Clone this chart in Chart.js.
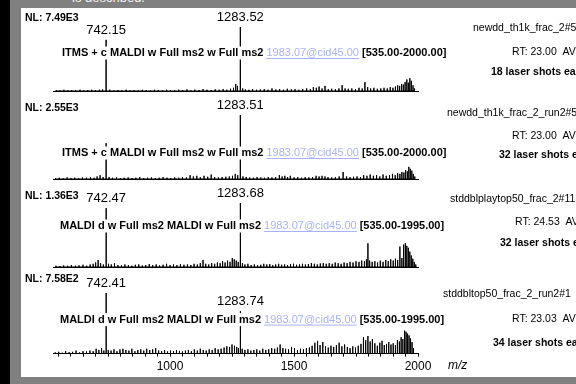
<!DOCTYPE html>
<html>
<head>
<meta charset="utf-8">
<title>MS2 spectra</title>
<script src="https://cdn.jsdelivr.net/npm/chart.js@4.4.1/dist/chart.umd.min.js"></script>
<style>
  html, body { margin: 0; padding: 0; }
  body {
    width: 576px; height: 384px; position: relative; overflow: hidden;
    background: #fff; font-family: "Liberation Sans", Arial, sans-serif;
  }
  canvas { position: absolute; left: 0; }
  .edge { position: absolute; z-index: 2; }
  .edge-black { left: 0; top: 0; width: 10px; height: 384px; background: #000; }
  .edge-left { left: 10px; top: 0; width: 11px; height: 384px; background: #808080; }
  .edge-top { left: 10px; top: 0; width: 566px; height: 8px; background: #808080; overflow: hidden; }
  .edge-bottom { left: 10px; top: 377px; width: 566px; height: 7px; background: #808080; }
  .edge-top span { position: absolute; left: 62px; top: -10px; color: #f4f4f4; font-size: 13px; white-space: nowrap; }
</style>
</head>
<body>
<canvas id="p1" width="576" height="88" style="top:8px"></canvas>
<canvas id="p2" width="576" height="88" style="top:96px"></canvas>
<canvas id="p3" width="576" height="88" style="top:184px"></canvas>
<canvas id="p4" width="576" height="103" style="top:274px"></canvas>
<div class="edge edge-black"></div>
<div class="edge edge-left"></div>
<div class="edge edge-top"><span>is described.</span></div>
<div class="edge edge-bottom"></div>

<script>
// m/z and relative abundance (%)
const p1Mz = [
  541, 556, 572, 588, 603, 619, 637, 652, 668, 684,
  699, 715, 728, 742.15, 757, 773, 790, 806, 823, 839,
  855, 872, 888, 904, 921, 937, 953, 970, 986, 1002,
  1019, 1035, 1051, 1068, 1084, 1100, 1117, 1133, 1149, 1166,
  1182, 1198, 1214, 1229, 1244, 1256, 1265, 1272, 1283.52, 1293,
  1304, 1318, 1333, 1349, 1364, 1380, 1395, 1411, 1427, 1442,
  1458, 1473, 1489, 1504, 1520, 1535, 1551, 1566, 1578, 1590,
  1601, 1613, 1625, 1638, 1652, 1667, 1681, 1694, 1706, 1719,
  1733, 1748, 1762, 1775, 1786, 1797, 1809, 1822, 1836, 1850,
  1863, 1876, 1888, 1899, 1909, 1918, 1926, 1934, 1941, 1948,
  1955, 1961, 1967, 1973, 1980, 1986
];
const p1Int = [
  1.5, 1, 2, 1, 1.5, 1, 2, 1, 1.5, 2,
  1.5, 2, 2.5, 80, 2, 1, 1.5, 1, 2, 1,
  1.5, 1, 2, 1.5, 1, 2, 1.5, 1, 2, 1.5,
  1, 2, 1.5, 2.5, 1, 2, 1.5, 3, 2, 1.5,
  2.5, 2, 3, 2, 3.5, 5, 11, 8, 100, 4,
  2.5, 2, 3, 2, 2.5, 3, 2, 4, 2.5, 3,
  2, 3.5, 2.5, 3, 2, 3, 4, 3, 6, 5,
  7, 4, 8, 3, 3.5, 3, 4, 9, 4, 3.5,
  4, 3, 5, 4, 14, 6, 4, 5, 3.5, 4,
  5, 4, 6, 5, 7, 9, 8, 11, 10, 14,
  18, 13, 20, 16, 9, 4
];

const p2Mz = [
  538, 553, 569, 585, 600, 616, 632, 647, 663, 679,
  694, 706, 718, 730, 742.2, 754, 768, 784, 800, 815,
  831, 847, 862, 878, 894, 909, 925, 941, 956, 972,
  988, 1003, 1019, 1035, 1050, 1066, 1081, 1094, 1108, 1122,
  1137, 1152, 1166, 1180, 1195, 1210, 1225, 1239, 1252, 1263,
  1273, 1283.51, 1294, 1307, 1321, 1336, 1351, 1366, 1381, 1396,
  1411, 1426, 1441, 1452, 1463, 1474, 1485, 1500, 1515, 1530,
  1545, 1560, 1575, 1589, 1601, 1613, 1625, 1637, 1652, 1667,
  1682, 1698, 1712, 1726, 1740, 1754, 1768, 1781, 1794, 1807,
  1820, 1833, 1846, 1859, 1872, 1885, 1897, 1908, 1918, 1927,
  1935, 1943, 1950, 1957, 1963, 1969, 1975, 1981, 1987
];
const p2Int = [
  1.5, 2, 1, 2.5, 1.5, 2, 1, 2.5, 2, 3,
  2, 4, 6, 3, 56, 3, 2, 2.5, 1.5, 2,
  2.5, 1.5, 2, 3, 1.5, 2, 2.5, 1.5, 2, 3,
  2, 1.5, 2.5, 2, 3, 2.5, 6, 4, 5, 3,
  5, 3.5, 7, 3, 2.5, 3, 3.5, 4, 5, 8,
  6, 100, 4, 3, 2.5, 2, 3, 2.5, 2, 3,
  2.5, 3, 6, 4, 5, 3, 5, 2.5, 3, 2,
  3, 2.5, 3, 5, 4, 5, 4, 3, 2.5, 3,
  4, 11, 4, 3, 3.5, 4, 3, 6, 5, 7,
  5, 6, 4, 7, 5, 6, 8, 6, 9, 8,
  11, 10, 14, 12, 19, 16, 13, 8, 4
];

const p3Mz = [
  540, 556, 571, 587, 602, 618, 633, 649, 664, 678,
  690, 700, 710, 720, 731, 742.47, 752, 763, 776, 790,
  804, 818, 832, 846, 860, 874, 888, 902, 916, 930,
  944, 958, 972, 986, 1000, 1014, 1028, 1042, 1056, 1070,
  1084, 1097, 1110, 1122, 1133, 1144, 1156, 1168, 1180, 1191,
  1202, 1212, 1222, 1232, 1242, 1251, 1259, 1267, 1275, 1283.68,
  1292, 1302, 1314, 1327, 1340, 1353, 1366, 1378, 1390, 1402,
  1414, 1426, 1438, 1450, 1462, 1474, 1486, 1498, 1510, 1522,
  1534, 1546, 1558, 1570, 1582, 1594, 1606, 1618, 1630, 1642,
  1654, 1666, 1678, 1690, 1702, 1714, 1726, 1738, 1750, 1762,
  1773, 1784, 1792, 1798, 1805, 1815, 1826, 1837, 1848, 1859,
  1870, 1880, 1890, 1900, 1909, 1918, 1927, 1935, 1942, 1949,
  1955, 1961, 1967, 1973, 1979, 1985, 1991
];
const p3Int = [
  2, 1.5, 2.5, 2, 3, 2, 2.5, 3.5, 2, 4,
  5, 7, 11, 6, 4, 92, 5, 4, 6, 3,
  2.5, 4, 3, 2, 3.5, 4, 2.5, 3, 4.5, 3,
  4, 2.5, 3.5, 5, 3, 4, 3, 4.5, 3.5, 4,
  3, 5, 4, 6, 11, 5, 4, 6, 5, 7,
  6, 9, 7, 10, 8, 14, 12, 10, 8, 100,
  6, 4, 5, 3, 4, 3, 3.5, 5, 4, 4.5,
  3, 4, 5, 3.5, 4, 3, 4.5, 5, 3.5, 4,
  5, 4, 4.5, 6, 5, 4, 5.5, 6, 5, 6,
  5, 7, 6, 5, 7, 6, 8, 7, 9, 8,
  10, 9, 12, 37, 10, 8, 9, 7, 10, 8,
  11, 9, 12, 10, 13, 11, 32, 14, 35, 37,
  33, 30, 24, 18, 13, 8, 4
];

const p4Mz = [
  537, 551, 565, 579, 593, 607, 621, 635, 649, 663,
  677, 690, 702, 713, 724, 733, 742.41, 751, 762, 774,
  786, 798, 810, 822, 834, 846, 858, 870, 882, 894,
  906, 918, 930, 942, 954, 966, 978, 990, 1002, 1014,
  1026, 1038, 1050, 1062, 1074, 1086, 1098, 1110, 1122, 1134,
  1146, 1158, 1170, 1182, 1194, 1206, 1218, 1229, 1240, 1250,
  1260, 1269, 1276, 1283.74, 1291, 1302, 1314, 1326, 1338, 1350,
  1362, 1374, 1386, 1398, 1410, 1422, 1433, 1444, 1455, 1466,
  1478, 1490, 1502, 1514, 1526, 1538, 1550, 1562, 1573, 1584,
  1595, 1605, 1616, 1627, 1638, 1649, 1660, 1671, 1682, 1693,
  1704, 1715, 1726, 1737, 1748, 1759, 1770, 1780, 1789, 1798,
  1807, 1816, 1826, 1836, 1846, 1855, 1864, 1873, 1882, 1891,
  1900, 1909, 1917, 1925, 1932, 1939, 1946, 1952, 1958, 1964,
  1970, 1976, 1982
];
const p4Int = [
  2, 3, 1.5, 4, 2.5, 3, 5, 2, 4, 3.5,
  5, 4, 8, 6, 9, 5, 100, 6, 5, 7,
  4, 7, 8, 6, 5, 8, 4, 6, 7, 5,
  8, 6, 7, 9, 5, 4, 6, 3.5, 5, 4,
  6, 4.5, 3.5, 5, 6, 4, 7, 5, 8, 6,
  5, 7, 6, 9, 7, 8, 10, 12, 11, 15,
  13, 11, 9, 70, 8, 6, 7, 5, 6, 7,
  5, 8, 6, 7, 9, 8, 10, 15, 9, 8,
  7, 11, 9, 6, 8, 7, 9, 10, 13, 18,
  21, 14, 19, 12, 10, 13, 11, 14, 18, 12,
  15, 11, 9, 12, 10, 13, 16, 27, 22, 29,
  20, 24, 17, 13, 18, 21, 14, 16, 19, 15,
  17, 14, 22, 20, 27, 24, 38, 36, 33, 30,
  25, 19, 9
];

// labelled peaks and normalisation levels
const p1Labels = [742.15, 1283.52];
const p2Labels = [1283.51];
const p3Labels = [742.47, 1283.68];
const p4Labels = [742.41, 1283.74];
const nlValues = ["7.49E3", "2.55E3", "1.36E3", "7.58E2"];

// m/z axis
const mzRange = [528, 2000];
const tickValues = [
  550, 600, 650, 700, 750, 800, 850, 900, 950, 1000,
  1050, 1100, 1150, 1200, 1250, 1300, 1350, 1400, 1450, 1500,
  1550, 1600, 1650, 1700, 1750, 1800, 1850, 1900, 1950, 2000
];
const tickLabels = [1000, 1500, 2000];

const FONT = '"Liberation Sans", Arial, sans-serif';
const LINK_COLOR = "#a9b3f2";

var SpectraPage = function () {
  return {};
};

SpectraPage.JS = (function () {
  const panels = [
    {
      id: "p1", mz: p1Mz, ints: p1Int, labels: p1Labels, nl: nlValues[0],
      padBottom: 5, axis: false, nlDy: -73, headX: 62, headDy: -38,
      head: ["ITMS + c MALDI w Full ms2 w Full ms2 ", "1983.07@cid45.00", " [535.00-2000.00]"],
      side: [
        { text: "newdd_th1k_frac_2#5", x: 473, dy: -63 },
        { text: "RT: 23.00  AV", x: 512, dy: -39 },
        { text: "18 laser shots ea", x: 491, dy: -19, bold: true },
      ],
    },
    {
      id: "p2", mz: p2Mz, ints: p2Int, labels: p2Labels, nl: nlValues[1],
      padBottom: 5, axis: false, nlDy: -71, headX: 62, headDy: -26,
      head: ["ITMS + c MALDI w Full ms2 w Full ms2 ", "1983.07@cid45.00", " [535.00-2000.00]"],
      side: [
        { text: "newdd_th1k_frac_2_run2#5", x: 447, dy: -66 },
        { text: "RT: 23.00  AV", x: 512, dy: -43 },
        { text: "32 laser shots ea", x: 499, dy: -24, bold: true },
      ],
    },
    {
      id: "p3", mz: p3Mz, ints: p3Int, labels: p3Labels, nl: nlValues[2],
      padBottom: 5, axis: false, nlDy: -71, headX: 60, headDy: -41,
      head: ["MALDI d w Full ms2 MALDI w Full ms2 ", "1983.07@cid45.00", " [535.00-1995.00]"],
      side: [
        { text: "stddblplaytop50_frac_2#11", x: 450, dy: -68 },
        { text: "RT: 24.53  AV", x: 515, dy: -45 },
        { text: "32 laser shots ea", x: 500, dy: -24, bold: true },
      ],
    },
    {
      id: "p4", mz: p4Mz, ints: p4Int, labels: p4Labels, nl: nlValues[3],
      padBottom: 0, axis: true, nlDy: -74, headX: 60, headDy: -34,
      head: ["MALDI d w Full ms2 MALDI w Full ms2 ", "1983.07@cid45.00", " [535.00-1995.00]"],
      side: [
        { text: "stddbltop50_frac_2_run2#1", x: 443, dy: -59 },
        { text: "RT: 23.03  AV", x: 512, dy: -34 },
        { text: "34 laser shots ea", x: 493, dy: -10, bold: true },
      ],
    },
  ];

  return {
    init() {
      panels.forEach((p) => this.drawPanel(p));
    },

    // each peak becomes a vertical stick: baseline -> top -> baseline
    sticks(mz, ints) {
      const pts = [];
      mz.forEach((m, i) => {
        pts.push({ x: m, y: 0 }, { x: m, y: ints[i] }, { x: m, y: 0 });
      });
      return pts;
    },

    textPlugin(p) {
      return {
        id: "spectrumText",
        afterDatasetsDraw(chart) {
          const ctx = chart.ctx;
          const base = chart.chartArea.bottom;
          const xs = chart.scales.x;
          const ys = chart.scales.y;
          ctx.save();
          ctx.fillStyle = "#000";
          ctx.textBaseline = "middle";

          // scan header, sits on a white box that hides the sticks behind it
          const hy = base + p.headDy;
          ctx.font = "bold 11px " + FONT;
          const w0 = ctx.measureText(p.head[0]).width;
          const w2 = ctx.measureText(p.head[2]).width;
          ctx.font = "11px " + FONT;
          const w1 = ctx.measureText(p.head[1]).width;
          ctx.fillStyle = "#fff";
          ctx.fillRect(p.headX - 1, hy - 6.5, w0 + w1 + w2 + 2, 13);
          ctx.textAlign = "left";
          ctx.fillStyle = "#000";
          ctx.font = "bold 11px " + FONT;
          ctx.fillText(p.head[0], p.headX, hy);
          ctx.fillText(p.head[2], p.headX + w0 + w1, hy);
          ctx.font = "11px " + FONT;
          ctx.fillStyle = LINK_COLOR;
          ctx.fillText(p.head[1], p.headX + w0, hy);
          ctx.fillRect(p.headX + w0, hy + 5, w1, 1);

          // peak labels
          ctx.fillStyle = "#000";
          ctx.font = "13px " + FONT;
          ctx.textAlign = "center";
          ctx.textBaseline = "bottom";
          p.labels.forEach((m) => {
            const i = p.mz.indexOf(m);
            const px = xs.getPixelForValue(m);
            const py = ys.getPixelForValue(p.ints[i]);
            ctx.fillText(m.toFixed(2), px, py - 3);
          });

          // normalisation level
          ctx.textAlign = "left";
          ctx.textBaseline = "middle";
          ctx.font = "bold 10.5px " + FONT;
          ctx.fillText("NL: " + p.nl, 25, base + p.nlDy);

          // scan info on the right, cut off by the page edge
          p.side.forEach((s) => {
            ctx.font = (s.bold ? "bold " : "") + "10.5px " + FONT;
            ctx.fillText(s.text, s.x, base + s.dy);
          });

          if (p.axis) {
            ctx.font = "italic 12px " + FONT;
            ctx.fillText("m/z", 448, base + 12);
          }
          ctx.restore();
        },
      };
    },

    drawPanel(p) {
      const ctx = document.getElementById(p.id).getContext("2d");
      const xAxis = {
        type: "linear",
        min: mzRange[0],
        max: mzRange[1],
        border: { display: true, color: "#000", width: 1 },
      };
      if (p.axis) {
        xAxis.afterBuildTicks = (scale) => {
          scale.ticks = tickValues.map((v) => ({ value: v }));
        };
        xAxis.grid = {
          display: true,
          drawOnChartArea: false,
          drawTicks: true,
          tickLength: 3,
          color: "#000",
        };
        xAxis.ticks = {
          autoSkip: false,
          maxRotation: 0,
          minRotation: 0,
          padding: 3,
          color: "#000",
          font: { family: FONT, size: 12 },
          callback: (v) => (tickLabels.includes(v) ? String(v) : ""),
        };
      } else {
        xAxis.grid = { display: false, drawTicks: false };
        xAxis.ticks = { display: false };
      }

      const config = {
        type: "line",
        data: {
          datasets: [
            {
              data: this.sticks(p.mz, p.ints),
              borderColor: "#000",
              borderWidth: 1,
              pointRadius: 0,
              tension: 0,
              fill: false,
            },
          ],
        },
        options: {
          responsive: false,
          animation: false,
          events: [],
          layout: { padding: { left: 53, right: 158, top: 19, bottom: p.padBottom } },
          plugins: { legend: { display: false }, tooltip: { enabled: false } },
          scales: {
            x: xAxis,
            y: { min: 0, max: 100, display: false },
          },
        },
        plugins: [this.textPlugin(p)],
      };
      const chart = new Chart(ctx, config);
    },
  };
})();

(function () {
  SpectraPage.JS.init();
})();
</script>
</body>
</html>
